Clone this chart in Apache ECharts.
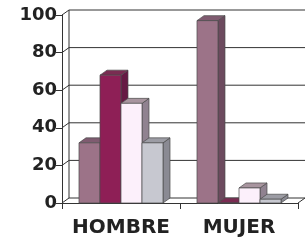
<!DOCTYPE html>
<html>
<head>
<meta charset="utf-8">
<script src="https://cdn.jsdelivr.net/npm/echarts@6/dist/echarts.min.js"></script>
<style>
  html, body { margin: 0; padding: 0; background: #fff; }
  #chart { width: 306px; height: 241px; }
</style>
</head>
<body>
<div id="chart"></div>
<script>
// datos
const categories = ['HOMBRE', 'MUJER'];
const serie1 = [32, 97];
const serie2 = [68, 0];
const serie3 = [53, 8];
const serie4 = [32, 2];
const yMin = 0, yMax = 100, yStep = 20;

// colores: frente, tapa, lado
const palette = [
  ['#9c7388', '#7f5b70', '#6c4a5e'],
  ['#8e1f56', '#7a2c52', '#661a44'],
  ['#fcf0fb', '#a8959f', '#908290'],
  ['#c7c8d0', '#9c9ca4', '#8a8a93']
];
const DX = 7, DY = -5; // profundidad 3D

function barRender(si) {
  return function (params, api) {
    const cat = api.value(0);
    const v = api.value(1);
    const base = api.coord([cat, 0]);
    const top = api.coord([cat, v]);
    const band = api.size([1, 0])[0];
    const w = band * 0.178;
    const x0 = base[0] - 2 * w + si * w;
    const x1 = x0 + w;
    const y0 = base[1], y1 = top[1];
    const c = palette[si];
    const stroke = { stroke: '#4a4a4a', lineWidth: 0.7 };
    return {
      type: 'group',
      children: [
        { type: 'polygon', shape: { points: [[x1, y0], [x1 + DX, y0 + DY], [x1 + DX, y1 + DY], [x1, y1]] },
          style: Object.assign({ fill: c[2] }, stroke) },
        { type: 'polygon', shape: { points: [[x0, y1], [x0 + DX, y1 + DY], [x1 + DX, y1 + DY], [x1, y1]] },
          style: Object.assign({ fill: c[1] }, stroke) },
        { type: 'rect', shape: { x: x0, y: y1, width: w, height: y0 - y1 },
          style: Object.assign({ fill: c[0] }, stroke) }
      ]
    };
  };
}

function wallRender(params, api) {
  const cs = params.coordSys;
  const x = cs.x, W = cs.width;
  const children = [];
  const lineStyle = { stroke: '#333', lineWidth: 1, fill: null };
  for (let t = yMin; t <= yMax; t += yStep) {
    const y = api.coord([0, t])[1];
    children.push({ type: 'polyline', shape: { points: [[x, y], [x + DX, y + DY], [x + W + DX, y + DY]] }, style: lineStyle });
  }
  const yb = api.coord([0, yMin])[1];
  const yt = api.coord([0, yMax])[1];
  children.push({ type: 'line', shape: { x1: x + DX, y1: yb + DY, x2: x + DX, y2: yt + DY }, style: lineStyle });
  children.push({ type: 'line', shape: { x1: x + W, y1: yb, x2: x + W + DX, y2: yb + DY }, style: lineStyle });
  return { type: 'group', children: children };
}

const seriesData = [serie1, serie2, serie3, serie4];

const chart = echarts.init(document.getElementById('chart'), null, { renderer: 'canvas' });
chart.setOption({
  animation: false,
  backgroundColor: '#fff',
  grid: { left: 62, top: 15, width: 236, height: 188 },
  xAxis: {
    type: 'category',
    data: categories,
    axisLine: { lineStyle: { color: '#333', width: 1 } },
    axisTick: { show: true, length: 6, lineStyle: { color: '#333' } },
    axisLabel: { interval: 0, hideOverlap: false, color: '#222', fontFamily: 'DejaVu Sans', fontWeight: 'bold', fontSize: 20, margin: 15 }
  },
  yAxis: {
    type: 'value',
    min: yMin, max: yMax, interval: yStep,
    splitLine: { show: false },
    axisLine: { show: true, lineStyle: { color: '#333', width: 1 } },
    axisTick: { show: true, length: 6, lineStyle: { color: '#333' } },
    axisLabel: { color: '#222', fontFamily: 'DejaVu Sans', fontWeight: 'bold', fontSize: 18, margin: 5 }
  },
  series: [
    { type: 'custom', renderItem: wallRender, data: [[0, 0]], encode: { x: 0, y: 1 }, silent: true, z: 1 }
  ].concat(seriesData.map(function (vals, si) {
    return {
      type: 'custom',
      name: 'Serie ' + (si + 1),
      renderItem: barRender(si),
      data: vals.map(function (v, i) { return [i, v]; }),
      encode: { x: 0, y: 1 },
      z: 2
    };
  }))
});
</script>
</body>
</html>
